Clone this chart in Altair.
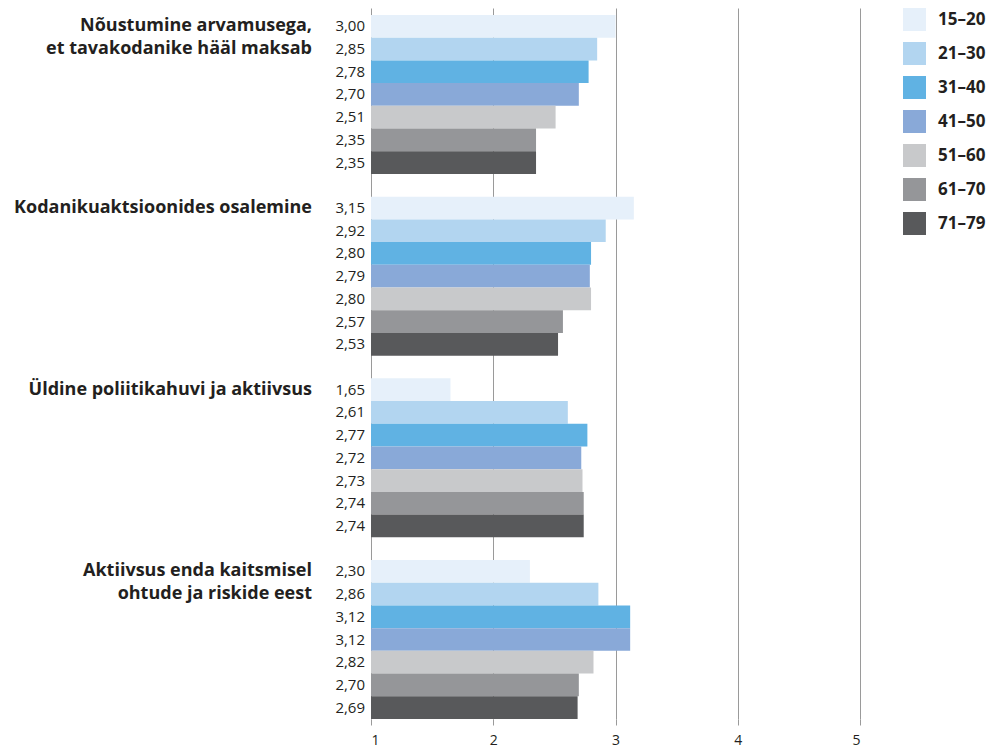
import altair as alt
import pandas as pd

FONT = "Open Sans"
TEXT = "#231F20"

group_lines = [
    ["Nõustumine arvamusega,", "et tavakodanike hääl maksab"],
    ["Kodanikuaktsioonides osalemine"],
    ["Üldine poliitikahuvi ja aktiivsus"],
    ["Aktiivsus enda kaitsmisel", "ohtude ja riskide eest"],
]
ages = ["15–20", "21–30", "31–40", "41–50", "51–60", "61–70", "71–79"]
colors = ["#E6F0FA", "#B2D5F0", "#60B2E3", "#89A9D8", "#C8C9CB", "#959699", "#58595B"]

vals_g1 = [3.00, 2.85, 2.78, 2.70, 2.51, 2.35, 2.35]
vals_g2 = [3.15, 2.92, 2.80, 2.79, 2.80, 2.57, 2.53]
vals_g3 = [1.65, 2.61, 2.77, 2.72, 2.73, 2.74, 2.74]
vals_g4 = [2.30, 2.86, 3.12, 3.12, 2.82, 2.70, 2.69]
all_vals = [vals_g1, vals_g2, vals_g3, vals_g4]

x_ticks = [1, 2, 3, 4, 5]

rows = []
domain = []
for g, vals in enumerate(all_vals):
    for i, v in enumerate(vals):
        key = f"g{g}_{i}"
        rows.append({"row": key, "age": ages[i], "value": v,
                     "label": f"{v:.2f}".replace(".", ",")})
        domain.append(key)
    if g < len(all_vals) - 1:
        domain.append(f"gap{g}")
bars_df = pd.DataFrame(rows)

lab_rows = []
for g, lines in enumerate(group_lines):
    for k, t in enumerate(lines):
        lab_rows.append({"row": f"g{g}_{k}", "text": t})
labels_df = pd.DataFrame(lab_rows)

yscale = alt.Scale(domain=domain, paddingInner=0, paddingOuter=0.154, align=1)
xscale = alt.Scale(domain=[1, 5], nice=False, zero=False)

bars = alt.Chart(bars_df).mark_bar().encode(
    y=alt.Y("row:N", scale=yscale,
            axis=alt.Axis(labels=False, ticks=False, title=None, grid=False,
                          domain=True, domainColor=TEXT, domainWidth=1.3)),
    x=alt.X("value:Q", scale=xscale,
            axis=alt.Axis(values=x_ticks, title=None, grid=True, gridColor="#9A9A9A",
                          gridWidth=1, domain=False, ticks=True, tickSize=6,
                          tickColor="#9A9A9A", labelFont=FONT, labelFontSize=14,
                          labelColor=TEXT, labelPadding=8, format="d")),
    x2=alt.datum(1),
    color=alt.Color("age:N", scale=alt.Scale(domain=ages, range=colors),
                    legend=alt.Legend(title=None, orient="none", legendX=532, legendY=0,
                                      symbolType="square", symbolSize=529,
                                      symbolStrokeWidth=0, rowPadding=11,
                                      labelFont=FONT, labelFontSize=17,
                                      labelFontWeight="bold", labelColor=TEXT,
                                      labelOffset=12, padding=0)),
)

values_txt = alt.Chart(bars_df).mark_text(
    align="right", baseline="middle", font=FONT, fontSize=15, color=TEXT
).encode(
    y=alt.Y("row:N", scale=yscale, axis=None),
    x=alt.value(-6),
    text="label:N",
)

group_txt = alt.Chart(labels_df).mark_text(
    align="right", baseline="middle", font=FONT, fontSize=18, fontWeight="bold", color=TEXT
).encode(
    y=alt.Y("row:N", scale=yscale, axis=None),
    x=alt.value(-59),
    text="text:N",
)

chart = alt.layer(bars, values_txt, group_txt).properties(
    width=489, height=711,
    padding={"left": 363, "top": 0, "right": 126, "bottom": 32},
    autosize=alt.AutoSizeParams(type="none"),
).configure_view(stroke=None)

chart.save("out.html", embed_options={"renderer": "svg", "actions": False})
